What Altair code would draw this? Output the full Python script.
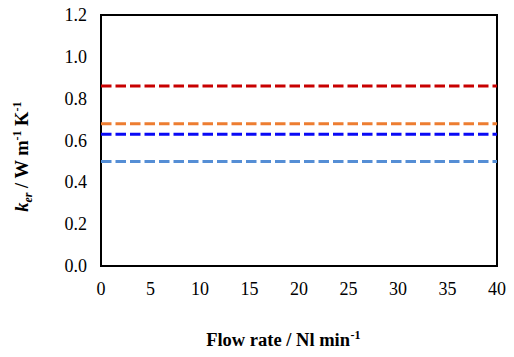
import altair as alt
import pandas as pd

series = ["s1", "s2", "s3", "s4"]
k_values = [0.86, 0.68, 0.63, 0.50]
colors = ["#C80000", "#ED7D31", "#0A0AF5", "#558ED5"]
flow_ends = [0, 40]
x_ticks = [0, 5, 10, 15, 20, 25, 30, 35, 40]
y_ticks = [0.0, 0.2, 0.4, 0.6, 0.8, 1.0, 1.2]

rows = []
for s, v in zip(series, k_values):
    for f in flow_ends:
        rows.append({"series": s, "flow": f, "k": v})
df = pd.DataFrame(rows)

xlab_df = pd.DataFrame({"flow": x_ticks, "lab": [str(v) for v in x_ticks]})
ylab_df = pd.DataFrame({"k": y_ticks, "lab": [f"{v:.1f}" for v in y_ticks]})

font = "'Liberation Serif', 'Times New Roman', serif"

xscale = alt.Scale(domain=[0, 40], nice=False)
yscale = alt.Scale(domain=[0, 1.2], nice=False)

lines = alt.Chart(df).mark_line(strokeWidth=3, strokeDash=[10.5, 4]).encode(
    x=alt.X("flow:Q", scale=xscale,
            axis=alt.Axis(values=x_ticks, title=None, labels=False)),
    y=alt.Y("k:Q", scale=yscale,
            axis=alt.Axis(values=y_ticks, title=None, labels=False)),
    color=alt.Color("series:N", scale=alt.Scale(domain=series, range=colors), legend=None),
    detail="series:N",
)

xlabels = alt.Chart(xlab_df).mark_text(
    font=font, fontSize=18, color="black", align="center", baseline="alphabetic"
).encode(
    x=alt.X("flow:Q", scale=xscale, axis=None),
    y=alt.value(280),
    text="lab:N",
)

ylabels = alt.Chart(ylab_df).mark_text(
    font=font, fontSize=18, color="black", align="right", baseline="alphabetic", dy=6
).encode(
    x=alt.value(-14),
    y=alt.Y("k:Q", scale=yscale, axis=None),
    text="lab:N",
)

one = pd.DataFrame({"a": [0]})


def piece(text, x, y, size, style="normal", align="left", angle=0):
    return alt.Chart(one).mark_text(
        text=text, x=x, y=y, fontSize=size, font=font, fontWeight="bold",
        fontStyle=style, align=align, baseline="alphabetic", angle=angle,
        color="black",
    )

# x-axis title: "Flow rate / Nl min^-1"
xt_main = piece("Flow rate / Nl min", 249, 331, 18.5, align="right")
xt_sup = piece("-1", 249.5, 324, 12, align="left")

# y-axis title: "k_er / W m^-1 K^-1" (rotated)
A = 187.5
yt = [
    piece("k", -73, A, 18.5, style="italic", align="right", angle=270),
    piece("er", -69, A, 12, style="italic", align="left", angle=270),
    piece("/ W m", -73, A - 14.5, 18.5, align="left", angle=270),
    piece("-1", -80, A - 62, 12, align="left", angle=270),
    piece("K", -73, A - 76.5, 18.5, align="left", angle=270),
    piece("-1", -80, A - 91, 12, align="left", angle=270),
]

chart = alt.layer(lines, xlabels, ylabels, xt_main, xt_sup, *yt).properties(
    width=396, height=251,
    autosize=alt.AutoSizeParams(type="none"),
    padding={"left": 93, "top": 7, "right": 9, "bottom": 83},
).configure_view(
    stroke="black", strokeWidth=2
).configure_axis(
    domainColor="black", domainWidth=2, tickColor="black", tickWidth=2, tickSize=5,
    grid=False,
)

chart.save("out.html", embed_options={"renderer": "svg", "actions": False})
